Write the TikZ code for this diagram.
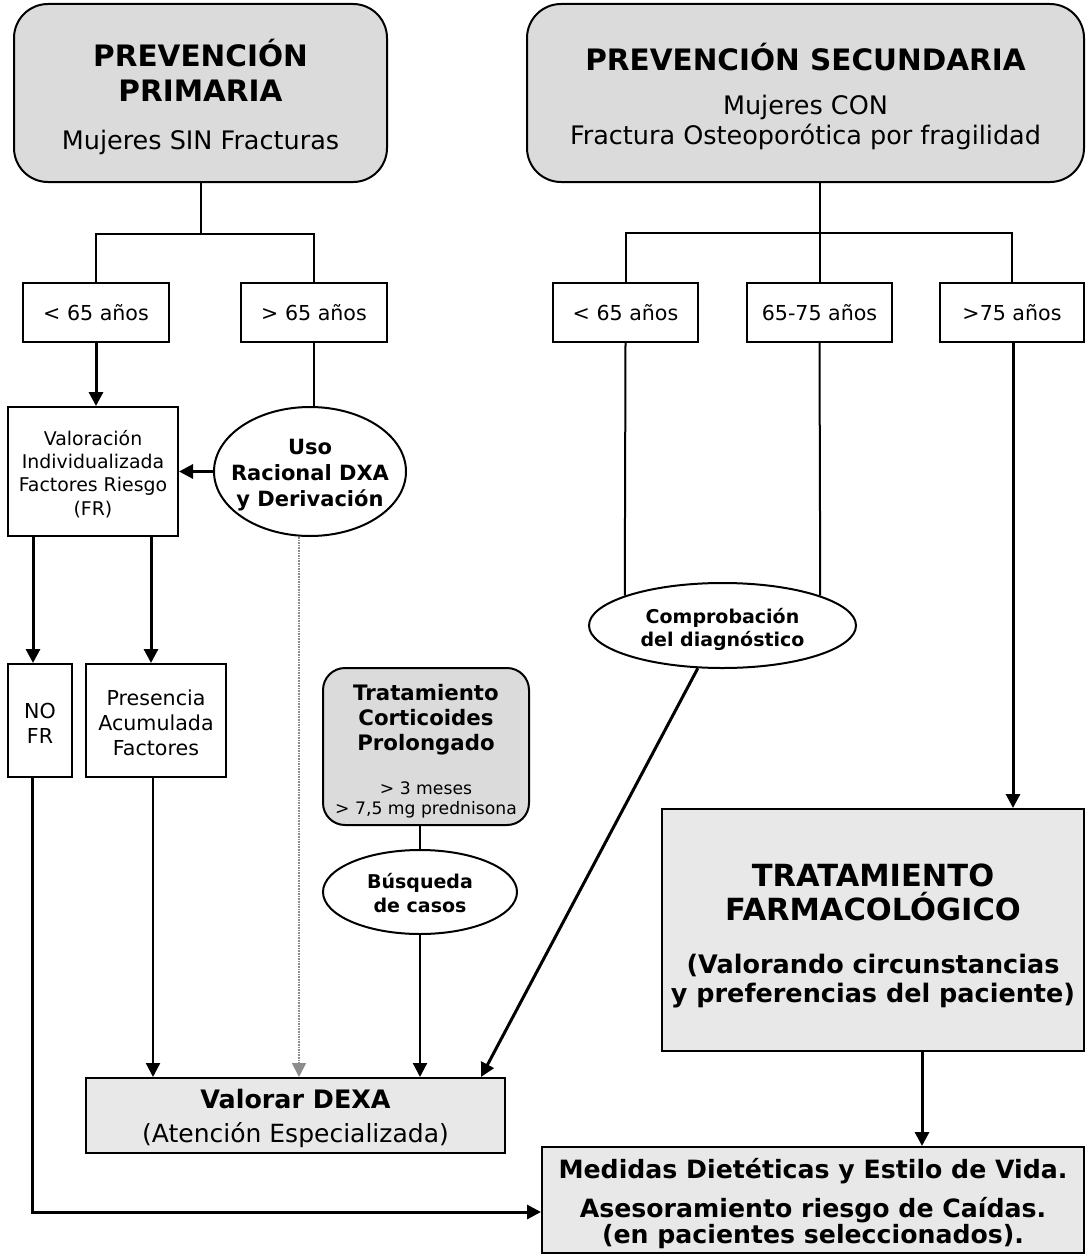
\documentclass[tikz,border=0pt]{standalone}
\usepackage{fontspec}
\setmainfont{DejaVu Sans}
\usetikzlibrary{arrows.meta,shapes.geometric}

\begin{document}
\begin{tikzpicture}[x=1pt,y=-1pt,
	box/.style={draw,line width=2pt,rectangle,inner sep=0pt,align=center},
	greybox/.style={box,fill=black!9},
	headbox/.style={box,rounded corners=34pt,fill=black!14},
	oval/.style={draw,line width=2pt,ellipse,fill=white,inner sep=0pt},
	txt/.style={align=center,inner sep=0pt},
	link/.style={line width=2pt},
	arrow/.style={line width=3pt,-{Triangle[length=14pt,width=14pt]}},
	thinarrow/.style={line width=2.2pt,-{Triangle[length=14pt,width=14pt]}},
	dotarrow/.style={line width=1.6pt,densely dotted,black!45,-{Triangle[length=14pt,width=14pt]}}]
	\useasboundingbox (0,0) rectangle (1085,1255);
	% cabeceras
	\node[headbox,minimum width=373pt,minimum height=178pt] (prim) at (200.5,93) {};
	\node[txt,font=\fontsize{25.5}{35}\selectfont] (primT) at (200.5,96.5)
		{\bfseries\fontsize{29.5}{35}\selectfont PREVENCIÓN\\\bfseries\fontsize{29.5}{35}\selectfont PRIMARIA\\[13pt]Mujeres SIN Fracturas};
	\node[headbox,minimum width=557pt,minimum height=178pt] (sec) at (805.5,93) {};
	\node[txt,font=\fontsize{25.5}{30}\selectfont] (secT) at (805.5,96)
		{\bfseries\fontsize{29.5}{30}\selectfont PREVENCIÓN SECUNDARIA\\[14pt]Mujeres CON\\Fractura Osteoporótica por fragilidad};
	% edades
	\node[box,minimum width=146pt,minimum height=59pt,font=\fontsize{20.6}{25}\selectfont] (pA) at (96,312.5) {< 65 años};
	\node[box,minimum width=146pt,minimum height=59pt,font=\fontsize{20.6}{25}\selectfont] (pB) at (314,312.5) {> 65 años};
	\node[box,minimum width=145pt,minimum height=59pt,font=\fontsize{20.6}{25}\selectfont] (sA) at (625.5,312.5) {< 65 años};
	\node[box,minimum width=145pt,minimum height=59pt,font=\fontsize{20.6}{25}\selectfont] (sB) at (819.5,312.5) {65-75 años};
	\node[box,minimum width=144pt,minimum height=59pt,font=\fontsize{20.6}{25}\selectfont] (sC) at (1012,312.5) {>75 años};
	% rama primaria
	\node[box,minimum width=170pt,minimum height=129pt] (val) at (93,471.5) {};
	\node[txt,font=\fontsize{18.9}{23.3}\selectfont] (valT) at (93,474)
		{Valoración\\Individualizada\\Factores Riesgo\\(FR)};
	\node[oval,minimum width=192pt,minimum height=129pt] (uso) at (310,471.5) {};
	\node[txt,font=\bfseries\fontsize{21}{26}\selectfont] (usoT) at (310,474.8) {Uso\\Racional DXA\\y Derivación};
	\node[box,minimum width=64pt,minimum height=113pt] (noFR) at (40,720.5) {};
	\node[txt,font=\fontsize{20.6}{25}\selectfont] (noFRT) at (40,723) {NO\\FR};
	\node[box,minimum width=140pt,minimum height=113pt] (pres) at (156,720.5) {};
	\node[txt,font=\fontsize{20.6}{25}\selectfont] (presT) at (156,722.5) {Presencia\\Acumulada\\Factores};
	\node[headbox,rounded corners=22pt,minimum width=206pt,minimum height=157pt] (cort) at (426,746.5) {};
	\node[txt,font=\bfseries\fontsize{21.3}{25}\selectfont] (cortT) at (426,751)
		{Tratamiento\\Corticoides\\Prolongado\\[19pt]\mdseries\fontsize{17.2}{20}\selectfont > 3 meses\\[-5pt]\mdseries\fontsize{17.2}{20}\selectfont > 7,5 mg prednisona};
	\node[oval,minimum width=194pt,minimum height=84pt] (bus) at (420,892) {};
	\node[txt,font=\bfseries\fontsize{19}{24}\selectfont] (busT) at (420,892.6) {Búsqueda\\de casos};
	% rama secundaria
	\node[oval,minimum width=267pt,minimum height=85pt] (comp) at (722.5,625.5) {};
	\node[txt,font=\bfseries\fontsize{19}{23}\selectfont] (compT) at (722.5,629) {Comprobación\\del diagnóstico};
	\node[greybox,minimum width=422pt,minimum height=242pt] (trat) at (873,930) {};
	\node[txt,font=\bfseries\fontsize{30.5}{34}\selectfont] (tratT) at (873,935.8)
		{TRATAMIENTO\\FARMACOLÓGICO\\[19pt]\bfseries\fontsize{25.5}{29}\selectfont(Valorando circunstancias\\[-5pt]\bfseries\fontsize{25.5}{29}\selectfont y preferencias del paciente)};
	% destinos
	\node[greybox,minimum width=419pt,minimum height=75pt] (dexa) at (295.5,1115.5) {};
	\node[txt,font=\bfseries\fontsize{25.4}{34}\selectfont] (dexaT) at (295.5,1118.3)
		{Valorar DEXA\\\mdseries\fontsize{25}{28}\selectfont(Atención Especializada)};
	\node[greybox,minimum width=542pt,minimum height=106pt] (med) at (813,1200) {};
	\node[txt,font=\bfseries\fontsize{25.2}{26}\selectfont] (medT) at (813,1203.9)
		{Medidas Dietéticas y Estilo de Vida.\\[13pt]Asesoramiento riesgo de Caídas.\\(en pacientes seleccionados).};

	% conexiones
	\path (prim.south) ++(0,51) coordinate (pj);
	\coordinate (sj) at (819.5,233);
	\draw[link] (prim.south) -- (pj);
	\draw[link] (pA.north) |- (pj) -| (pB.north);
	\draw[link] (sj |- sec.south) -- (sj);
	\draw[link] (sA.north) |- (sj) -| (sC.north);
	\draw[link] (sB.north) -- (sj);

	\draw[arrow] (pA.south) -- (pA.south |- val.north);
	\draw[link] (pB.south) -- (pB.south |- uso.north);
	\draw[arrow] (uso.west) -- (uso.west -| val.east);
	\draw[dotarrow] ([xshift=-11pt]uso.south) -- ([xshift=-11pt]uso.south |- dexa.north);
	\draw[arrow] ([xshift=-60pt]val.south) -- ([xshift=-60pt]val.south |- noFR.north);
	\draw[arrow] ([xshift=58pt]val.south) -- ([xshift=58pt]val.south |- pres.north);
	\draw[arrow] ([xshift=-8pt]noFR.south) |- ([yshift=-12pt]med.west);
	\draw[thinarrow] ([xshift=-3pt]pres.south) -- ([xshift=-3pt]pres.south |- dexa.north);
	\draw[link] (bus.north |- cort.south) -- (bus.north);
	\draw[thinarrow] (bus.south) -- (bus.south |- dexa.north);

	\draw[link] (sA.south) -- (comp.163);
	\draw[link] (sB.south) -- (comp.17);
	\draw[arrow] (comp.240) -- ([xshift=185.5pt]dexa.north);
	\draw[arrow] ([xshift=1pt]sC.south) -- ([xshift=1pt]sC.south |- trat.north);
	\draw[arrow] ([xshift=49pt]trat.south) -- ([xshift=49pt]trat.south |- med.north);
\end{tikzpicture}
\end{document}
